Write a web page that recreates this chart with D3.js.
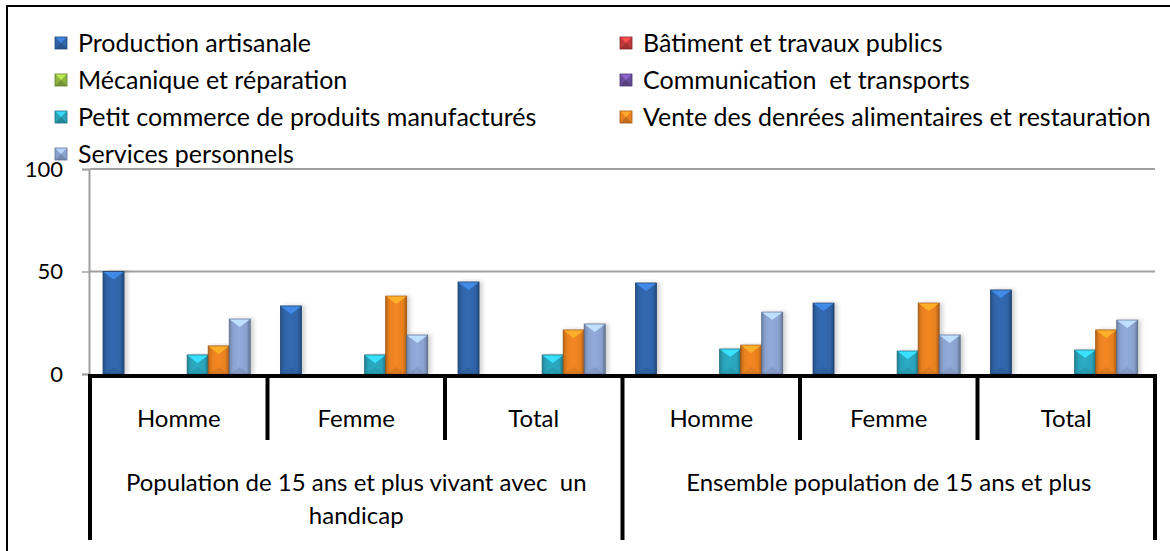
<!DOCTYPE html>
<html>
<head>
<meta charset="utf-8">
<script src="https://cdn.jsdelivr.net/npm/d3@7"></script>
<style>
  body { margin: 0; background: #fff; }
  svg text { font-family: Lato, "Open Sans", sans-serif; fill: #000; white-space: pre; }
</style>
</head>
<body>
<svg id="chart" width="1170" height="551"></svg>
<script>
// categories and groups
const categories = ['Homme', 'Femme', 'Total', 'Homme', 'Femme', 'Total'];
const groupLabels = [
  ['Population de 15 ans et plus vivant avec  un', 'handicap'],
  ['Ensemble population de 15 ans et plus'],
];
const groupSizes = [3, 3];

const seriesNames = [
  'Production artisanale',
  'Bâtiment et travaux publics',
  'Mécanique et réparation',
  'Communication  et transports',
  'Petit commerce de produits manufacturés',
  'Vente des denrées alimentaires et restauration',
  'Services personnels',
];

// values (%)
const production = [50, 33.2, 44.9, 44.4, 34.6, 41];
const batiment = [0, 0, 0, 0, 0, 0];
const mecanique = [0, 0, 0, 0, 0, 0];
const communication = [0, 0, 0, 0, 0, 0];
const petitCommerce = [9.3, 9.3, 9.3, 12.2, 11.2, 11.7];
const vente = [13.7, 38, 21.5, 14.1, 34.6, 21.5];
const services = [26.8, 19, 24.4, 30.2, 19, 26.3];

const yTicks = [0, 50, 100];

const seriesValues = [production, batiment, mecanique, communication, petitCommerce, vente, services];
const colors = ['#2f64a8', '#c0393a', '#8db23e', '#6a4c9a', '#2aa3ba', '#e8801f', '#8aa2cf'];

const svg = d3.select('#chart');
const defs = svg.append('defs');

const left = 90;
const right = 1155;
const yZero = 374;
const yTop = 169;
const fontSize = 24;

const x0 = d3.scaleBand().domain(d3.range(categories.length)).range([left, right]);
const x1 = d3.scaleBand().domain(d3.range(seriesNames.length))
  .range([0, x0.bandwidth()]).paddingOuter(0.72).align(0.43);
const y = d3.scaleLinear().domain([0, 100]).range([yZero, yTop]);

// gradients for bevelled bars
colors.forEach((c, i) => {
  const g = defs.append('linearGradient').attr('id', `grad${i}`)
    .attr('x1', '0%').attr('x2', '100%').attr('y1', '0%').attr('y2', '0%');
  g.append('stop').attr('offset', '0%').attr('stop-color', d3.color(c).darker(0.6));
  g.append('stop').attr('offset', '18%').attr('stop-color', c);
  g.append('stop').attr('offset', '45%').attr('stop-color', d3.color(c).brighter(0.15));
  g.append('stop').attr('offset', '82%').attr('stop-color', c);
  g.append('stop').attr('offset', '100%').attr('stop-color', d3.color(c).darker(0.9));
});

const shadow = defs.append('filter').attr('id', 'shadow')
  .attr('x', '-30%').attr('y', '-10%').attr('width', '180%').attr('height', '130%');
shadow.append('feDropShadow').attr('dx', 3).attr('dy', 0).attr('stdDeviation', 2)
  .attr('flood-color', '#000').attr('flood-opacity', 0.18);

// outer frame
svg.append('rect').attr('x', 7).attr('y', 6).attr('width', 1180).attr('height', 560)
  .attr('fill', 'none').attr('stroke', '#000').attr('stroke-width', 2);

// gridlines
svg.append('g').selectAll('line').data(yTicks.filter((t) => t > 0)).join('line')
  .attr('x1', left).attr('x2', right)
  .attr('y1', (d) => y(d)).attr('y2', (d) => y(d))
  .attr('stroke', '#a0a0a0').attr('stroke-width', 2);

// y axis
const yAxis = svg.append('g').attr('transform', `translate(${left - 1},0)`)
  .call(d3.axisLeft(y).tickValues(yTicks).tickSize(7).tickPadding(19));
yAxis.select('.domain').attr('stroke', '#a0a0a0').attr('stroke-width', 2);
yAxis.selectAll('.tick line').attr('stroke', '#a0a0a0').attr('stroke-width', 1.5);
yAxis.selectAll('.tick text').attr('font-size', 22).attr('font-family', 'Lato, sans-serif')
  .attr('fill', '#000');

// bars
const catG = svg.append('g').selectAll('g').data(categories).join('g')
  .attr('transform', (d, i) => `translate(${x0(i)},0)`);

catG.each(function (c, ci) {
  const bars = seriesValues.map((vals, si) => ({ si, v: vals[ci] })).filter((d) => d.v > 0);
  const bg = d3.select(this).selectAll('g.bar').data(bars).join('g').attr('class', 'bar');
  bg.append('rect')
    .attr('x', (d) => x1(d.si))
    .attr('y', (d) => y(d.v))
    .attr('width', x1.bandwidth())
    .attr('height', (d) => yZero - y(d.v))
    .attr('fill', (d) => `url(#grad${d.si})`)
    .attr('stroke', (d) => d3.color(colors[d.si]).darker(1.2))
    .attr('stroke-width', 0.8)
    .attr('filter', 'url(#shadow)');
  // light top facet
  bg.append('path')
    .attr('d', (d) => {
      const bx = x1(d.si);
      const w = x1.bandwidth();
      const top = y(d.v);
      return `M${bx + 0.5},${top + 0.5}L${bx + w - 0.5},${top + 0.5}L${bx + w / 2},${top + Math.min(8, (yZero - top) / 2)}Z`;
    })
    .attr('fill', (d) => d3.color(colors[d.si]).brighter(0.9));
  // darker bottom facet
  bg.append('path')
    .attr('d', (d) => {
      const bx = x1(d.si);
      const w = x1.bandwidth();
      const h = Math.min(7, (yZero - y(d.v)) / 2);
      return `M${bx + 1},${yZero}L${bx + w - 1},${yZero}L${bx + w / 2},${yZero - h}Z`;
    })
    .attr('fill', (d) => d3.color(colors[d.si]).darker(0.4))
    .attr('opacity', 0.5);
});

// category axis: thick black lines
const axisG = svg.append('g');
axisG.append('line').attr('x1', left - 2).attr('x2', right + 2)
  .attr('y1', yZero + 2).attr('y2', yZero + 2)
  .attr('stroke', '#000').attr('stroke-width', 4);

const groupEdges = [0];
groupSizes.forEach((s, i) => groupEdges.push(groupEdges[i] + s));
const boundaries = d3.range(categories.length + 1);
axisG.selectAll('line.sep').data(boundaries).join('line').attr('class', 'sep')
  .attr('x1', (d) => (d < categories.length ? x0(d) : right))
  .attr('x2', (d) => (d < categories.length ? x0(d) : right))
  .attr('y1', yZero)
  .attr('y2', (d) => (groupEdges.includes(d) ? 540 : 440))
  .attr('stroke', '#000').attr('stroke-width', 4);

svg.append('g').selectAll('text').data(categories).join('text')
  .attr('x', (d, i) => x0(i) + x0.bandwidth() / 2)
  .attr('y', 427)
  .attr('text-anchor', 'middle')
  .attr('font-size', fontSize)
  .text((d) => d);

groupLabels.forEach((lines, gi) => {
  const gx = (x0(groupEdges[gi]) + (groupEdges[gi + 1] < categories.length ? x0(groupEdges[gi + 1]) : right)) / 2;
  svg.append('text')
    .attr('x', gx).attr('y', 491)
    .attr('text-anchor', 'middle').attr('font-size', fontSize)
    .selectAll('tspan').data(lines).join('tspan')
    .attr('x', gx).attr('dy', (d, i) => (i === 0 ? 0 : 33))
    .text((d) => d);
});

// legend
const legendCols = [55, 620];
const legendRow0 = 43;
const legendRowStep = 37;
const leg = svg.append('g').selectAll('g').data(seriesNames).join('g')
  .attr('transform', (d, i) => `translate(${legendCols[i % 2]},${legendRow0 + Math.floor(i / 2) * legendRowStep})`);

leg.append('rect').attr('x', 0).attr('y', -6).attr('width', 12).attr('height', 12)
  .attr('fill', (d, i) => colors[i]);
leg.append('path').attr('d', 'M0,-6L12,-6L6,0Z')
  .attr('fill', (d, i) => d3.color(colors[i]).brighter(0.8));
leg.append('path').attr('d', 'M0,6L12,6L6,0Z')
  .attr('fill', (d, i) => d3.color(colors[i]).darker(0.5));
leg.append('rect').attr('x', 0).attr('y', -6).attr('width', 12).attr('height', 12)
  .attr('fill', 'none').attr('stroke', (d, i) => d3.color(colors[i]).darker(1)).attr('stroke-width', 0.8);
leg.append('text').attr('x', 23).attr('y', 8.5)
  .attr('font-size', 25)
  .text((d) => d);
</script>
</body>
</html>
